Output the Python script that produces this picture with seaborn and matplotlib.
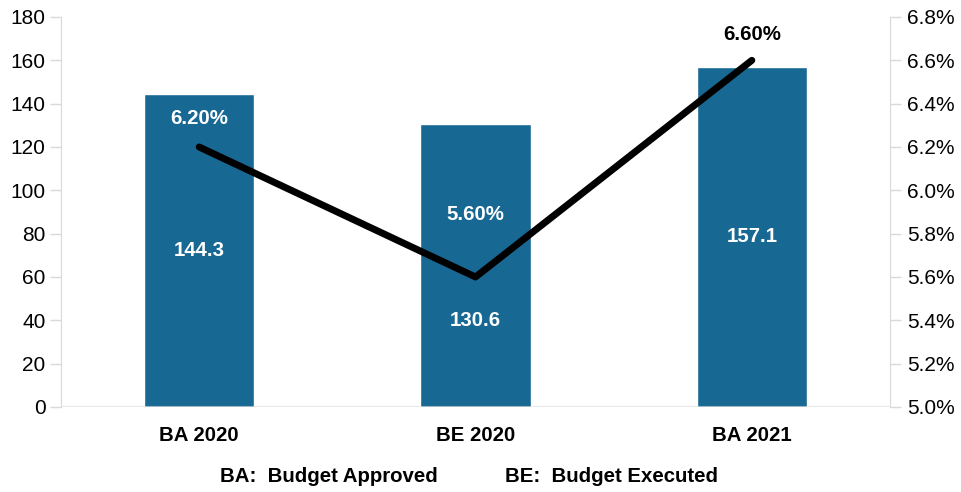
import matplotlib.pyplot as plt
import matplotlib.ticker as mticker
import seaborn as sns
import pandas as pd

# data
categories = ['BA 2020', 'BE 2020', 'BA 2021']
budget = [144.3, 130.6, 157.1]
share_pct = [6.2, 5.6, 6.6]
legend_notes = ['BA:  Budget Approved', 'BE:  Budget Executed']

sns.set_style('white')
plt.rcParams['font.family'] = ['Liberation Sans', 'DejaVu Sans']
plt.rcParams['text.color'] = 'black'

bar_color = '#186894'
grid_gray = '#d9d9d9'

df = pd.DataFrame({'cat': categories, 'budget': budget, 'pct': share_pct})

fig = plt.figure(figsize=(9.62, 4.92), dpi=100)
ax = fig.add_axes([61 / 962, 85 / 492, 829 / 962, 390 / 492])

sns.barplot(data=df, x='cat', y='budget', color=bar_color, saturation=1,
            width=0.40, ax=ax, zorder=2)
ax.set_ylim(0, 180)
ax.set_xlim(-0.5, 2.5)
ax.set_yticks(range(0, 181, 20))
ax.set_xlabel('')
ax.set_ylabel('')

# x ticks at category boundaries, labels centred under bars
ax.set_xticks([-0.5, 0.5, 1.5, 2.5])
ax.set_xticklabels([])
ax.set_xticks(range(3), minor=True)
ax.set_xticklabels(categories, minor=True, fontsize=14.7, fontweight='bold')
ax.tick_params(axis='x', which='major', length=8, width=1, color=grid_gray, direction='out')
ax.tick_params(axis='x', which='minor', length=0, pad=14, labelcolor='black')
ax.tick_params(axis='y', length=8, width=1, color=grid_gray, labelsize=15, pad=3,
               labelcolor='black')

for s in ['top', 'right']:
    ax.spines[s].set_visible(False)
ax.spines['left'].set_color(grid_gray)
ax.spines['bottom'].set_visible(False)
ax.axhline(0, color=grid_gray, lw=1.5, alpha=0.6, zorder=5)

# bar value labels
label_heights = [budget[0] / 2, 40, budget[2] / 2]
for i, v in enumerate(budget):
    ax.text(i, label_heights[i], f'{v:.1f}', ha='center', va='center',
            color='white', fontsize=14.7, fontweight='bold', zorder=6)

# secondary axis with percentage line
ax2 = ax.twinx()
sns.lineplot(x=list(range(3)), y=share_pct, ax=ax2, color='black', lw=5,
             solid_capstyle='round', solid_joinstyle='round', zorder=4)
ax2.set_ylim(5.0, 6.8)
ax2.set_xlim(-0.5, 2.5)
ax2.set_yticks([5.0 + 0.2 * k for k in range(10)])
ax2.yaxis.set_major_formatter(mticker.FuncFormatter(lambda v, p: f'{v:.1f}%'))
ax2.tick_params(axis='y', length=8, width=1, color=grid_gray, labelsize=15, pad=4,
                labelcolor='black')
for s in ['top', 'left', 'bottom']:
    ax2.spines[s].set_visible(False)
ax2.spines['right'].set_color(grid_gray)

# label offsets above each line point, in percentage units
pct_offsets = [0.13, 0.29, 0.12]
pct_colors = ['white', 'white', 'black']
for i, v in enumerate(share_pct):
    ax2.text(i, v + pct_offsets[i], f'{v:.2f}%', ha='center', va='center',
             color=pct_colors[i], fontsize=14.7, fontweight='bold', zorder=6)

fig.text(220 / 962, 1 - 477 / 492, legend_notes[0], ha='left', va='center',
         fontsize=14.7, fontweight='bold')
fig.text(505 / 962, 1 - 477 / 492, legend_notes[1], ha='left', va='center',
         fontsize=14.7, fontweight='bold')

fig.savefig('out.png', dpi=100)
